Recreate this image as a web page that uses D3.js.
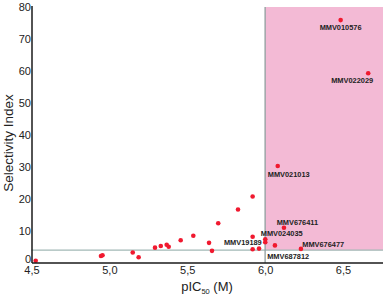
<!DOCTYPE html>
<html>
<head>
<meta charset="utf-8">
<script src="https://cdn.jsdelivr.net/npm/d3@7"></script>
<style>
  body { margin: 0; background: #fff; }
  .axis path { stroke: #1a1a1a; stroke-width: 1.5px; }
  .axis text { font-family: "Liberation Sans", Arial, sans-serif; font-size: 11px; fill: #222; }
</style>
</head>
<body>
<div id="scatterPlot"></div>
<script>
// data
var pic50 = [4.527, 4.946, 4.956, 5.150, 5.188, 5.293, 5.330, 5.368, 5.381, 5.458, 5.539,
             5.640, 5.659, 5.699, 5.826, 5.920, 5.920, 5.920, 5.961, 6.001, 6.001,
             6.063, 6.121, 6.081, 6.230, 6.485, 6.662];
var selIndex = [0.7, 2.2, 2.4, 3.3, 1.8, 4.8, 5.3, 5.7, 5.1, 7.1, 8.5,
                6.3, 3.8, 12.4, 16.7, 20.8, 8.2, 4.3, 4.5, 7.4, 6.5,
                5.5, 11.0, 30.3, 4.4, 75.9, 59.3];
var names = ["", "", "", "", "", "", "", "", "", "", "",
             "", "", "", "", "", "", "MMV19189", "", "MMV024035", "",
             "MMV687812", "MMV676411", "MMV021013", "MMV676477", "MMV010576", "MMV022029"];
var xTicks = [4.5, 5.0, 5.5, 6.0, 6.5];
var yTicks = [0, 10, 20, 30, 40, 50, 60, 70, 80];
var piCut = 6.0;
var siCut = 4;

// where each label sits relative to its point (px)
var labelPos = {
  "MMV010576": [-21, 9.5],
  "MMV022029": [-37, 9.7],
  "MMV021013": [-10, 11],
  "MMV676411": [-7.3, -2.7],
  "MMV024035": [-4.5, -3],
  "MMV19189": [-28.7, -3.8],
  "MMV676477": [1.3, -2],
  "MMV687812": [-7.7, 13.3]
};

var W = 385, H = 299;

var svg = d3.select("#scatterPlot")
  .append("svg")
    .attr("width", W)
    .attr("height", H);

var x = d3.scaleLinear()
  .domain([4.5, 6.757])
  .range([31.5, 383]);

var y = d3.scaleLinear()
  .domain([0, 80])
  .range([263, 7]);

// pink region
svg.append("rect")
  .attr("x", x(piCut))
  .attr("y", y(80))
  .attr("width", x(6.757) - x(piCut))
  .attr("height", y(siCut) - y(80))
  .attr("fill", "#f3bad5");

svg.append("line")
  .attr("x1", x(4.5)).attr("x2", x(6.757))
  .attr("y1", y(siCut)).attr("y2", y(siCut))
  .attr("stroke", "#a2b8b6")
  .attr("stroke-width", 1.3);

svg.append("line")
  .attr("x1", x(piCut)).attr("x2", x(piCut))
  .attr("y1", y(80)).attr("y2", y(0))
  .attr("stroke", "#8f9f9e")
  .attr("stroke-width", 1.3);

var pts = pic50.map(function(d, i) { return {x: d, y: selIndex[i], name: names[i]}; });

svg.selectAll("circle")
  .data(pts)
  .enter()
  .append("circle")
  .attr("cx", function(d) { return x(d.x); })
  .attr("cy", function(d) { return y(d.y); })
  .attr("r", 2.3)
  .attr("fill", "#f0192f");

svg.selectAll("text.lbl")
  .data(pts.filter(function(d) { return d.name; }))
  .enter()
  .append("text")
  .attr("class", "lbl")
  .attr("x", function(d) { return x(d.x) + labelPos[d.name][0]; })
  .attr("y", function(d) { return y(d.y) + labelPos[d.name][1]; })
  .attr("font-family", "Liberation Sans, Arial, sans-serif")
  .attr("font-weight", "bold")
  .attr("font-size", 7.4)
  .attr("fill", "#222")
  .text(function(d) { return d.name; });

var xAxis = d3.axisBottom(x)
  .tickValues(xTicks)
  .tickSize(0)
  .tickPadding(3.5)
  .tickFormat(function(d) { return d3.format(".1f")(d).replace(".", ","); });

var yAxis = d3.axisLeft(y)
  .tickValues(yTicks)
  .tickSize(0)
  .tickPadding(1);

svg.append("g")
  .attr("class", "axis")
  .attr("transform", "translate(0," + y(0) + ")")
  .call(xAxis);

var gy = svg.append("g")
  .attr("class", "axis")
  .attr("transform", "translate(" + 32 + ",0)")
  .call(yAxis);

// the 0 sits just above the 4,5
gy.selectAll(".tick text")
  .filter(function(d) { return d === 0; })
  .attr("y", -4);

svg.selectAll(".axis .domain").attr("d", function() {
  return d3.select(this.parentNode).attr("transform").indexOf(",0)") > 0
    ? "M0," + (y(80) - 1) + "V" + y(0)
    : "M32,0H" + x(6.757);
});

svg.append("text")
  .attr("transform", "rotate(-90)")
  .attr("x", -143)
  .attr("y", 13)
  .style("text-anchor", "middle")
  .attr("font-family", "Liberation Sans, Arial, sans-serif")
  .attr("font-size", 13.5)
  .attr("fill", "#222")
  .text("Selectivity Index");

var xt = svg.append("text")
  .attr("x", 207)
  .attr("y", 291)
  .style("text-anchor", "middle")
  .attr("font-family", "Liberation Sans, Arial, sans-serif")
  .attr("font-size", 13)
  .attr("fill", "#222");
xt.append("tspan").text("pIC");
xt.append("tspan").attr("font-size", 7.5).attr("dy", 3).text("50");
xt.append("tspan").attr("dy", -3).text(" (M)");
</script>
</body>
</html>
